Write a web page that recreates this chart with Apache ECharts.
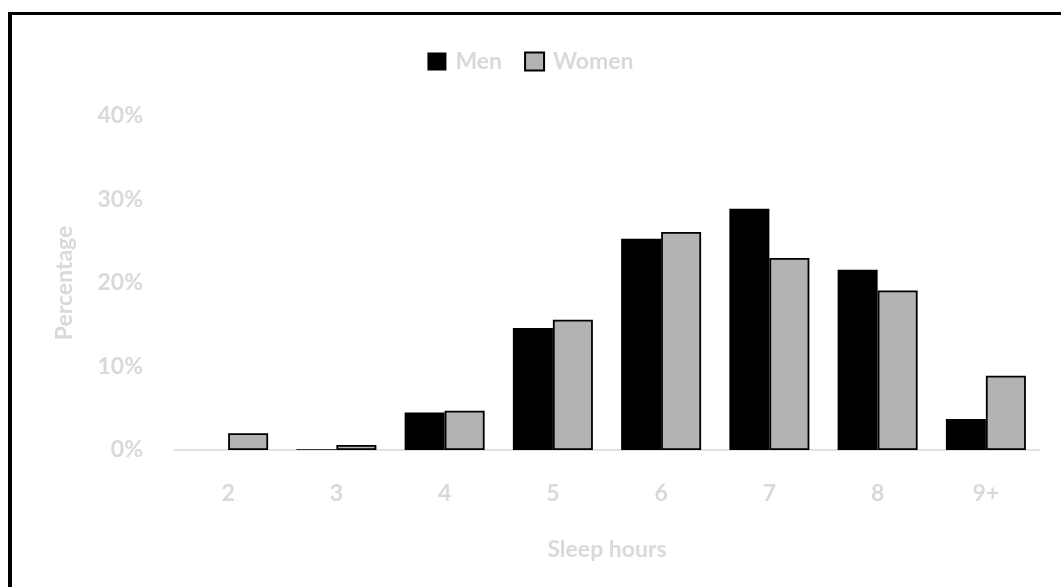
<!DOCTYPE html>
<html>
<head>
<meta charset="utf-8">
<script src="https://cdn.jsdelivr.net/npm/echarts@6/dist/echarts.min.js"></script>
<style>
  html, body { margin: 0; padding: 0; background: #fff; }
  #wrap { position: relative; width: 1061px; height: 587px; overflow: hidden; }
  #chart { position: absolute; left: 0; top: 0; width: 1061px; height: 587px; }
  #frame { position: absolute; left: 8px; top: 12px; width: 1100px; height: 700px;
           border-left: 4px solid #000; border-top: 3px solid #000; pointer-events: none; }
</style>
</head>
<body>
<div id="wrap">
  <div id="chart"></div>
  <div id="frame"></div>
</div>
<script>
const categories = ['2', '3', '4', '5', '6', '7', '8', '9+'];
const menValues = [0, 0.1, 4.5, 14.6, 25.3, 28.9, 21.6, 3.7];
const womenValues = [2.0, 0.6, 4.7, 15.6, 26.1, 23.0, 19.1, 8.9];
const seriesNames = ['Men', 'Women'];

const textColor = '#d9d9d9';
const fontFamily = 'Lato, "Noto Sans", sans-serif';
const fs = 23;

const chart = echarts.init(document.getElementById('chart'), null, { renderer: 'canvas' });
chart.setOption({
  animation: false,
  backgroundColor: '#fff',
  textStyle: { fontFamily: fontFamily, fontWeight: 'bold' },
  legend: {
    top: 45,
    left: 'center',
    icon: 'rect',
    itemWidth: 19,
    itemHeight: 18,
    itemGap: 22,
    textStyle: { color: textColor, fontSize: fs, fontWeight: 'bold', fontFamily: fontFamily, padding: [0, 0, 0, 4] },
    data: seriesNames
  },
  grid: { left: 174, right: 21, top: 116, bottom: 137, containLabel: false },
  xAxis: {
    type: 'category',
    data: categories,
    name: 'Sleep hours',
    nameLocation: 'middle',
    nameGap: 88,
    nameTextStyle: { color: textColor, fontSize: fs, fontWeight: 'bold', fontFamily: fontFamily },
    axisLine: { lineStyle: { color: '#d9d9d9', width: 1.5 } },
    axisTick: { show: false },
    axisLabel: { color: textColor, fontSize: fs, fontWeight: 'bold', margin: 32, fontFamily: fontFamily }
  },
  yAxis: {
    type: 'value',
    min: 0,
    max: 40,
    interval: 10,
    name: 'Percentage',
    nameLocation: 'middle',
    nameGap: 98,
    nameTextStyle: { color: textColor, fontSize: fs, fontWeight: 'bold', fontFamily: fontFamily },
    axisLine: { show: false },
    axisTick: { show: false },
    splitLine: { show: false },
    axisLabel: { color: textColor, fontSize: fs, fontWeight: 'bold', margin: 31, formatter: '{value}%', fontFamily: fontFamily }
  },
  series: [
    {
      name: seriesNames[0],
      type: 'bar',
      data: menValues,
      barWidth: 40,
      barGap: '0%',
      itemStyle: { color: '#000000', borderWidth: 0 }
    },
    {
      name: seriesNames[1],
      type: 'bar',
      data: womenValues,
      barWidth: 40,
      barGap: '0%',
      itemStyle: { color: '#b3b3b3', borderColor: '#000000', borderWidth: 1.8 }
    }
  ]
});
</script>
</body>
</html>
